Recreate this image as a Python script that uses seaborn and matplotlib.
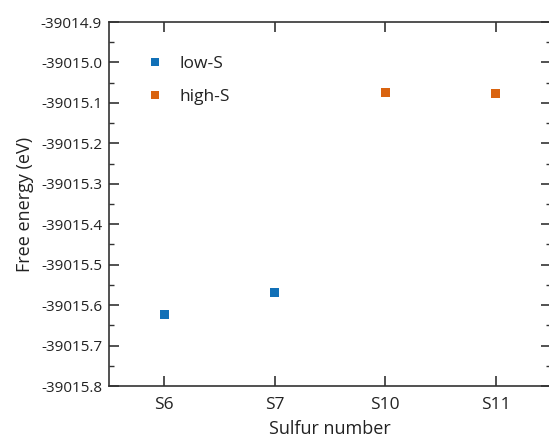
import matplotlib
matplotlib.use("Agg")
import matplotlib.pyplot as plt
import seaborn as sns
import pandas as pd
from matplotlib.ticker import MultipleLocator, FormatStrFormatter

categories = ["S6", "S7", "S10", "S11"]
groups = ["low-S", "low-S", "high-S", "high-S"]
energies = [-39015.623, -39015.568, -39015.075, -39015.076]
yticks = [-39014.9, -39015.0, -39015.1, -39015.2, -39015.3, -39015.4,
          -39015.5, -39015.6, -39015.7, -39015.8]

df = pd.DataFrame({"Sulfur number": categories, "group": groups, "energy": energies})

sns.set_style("ticks")
plt.rcParams["font.family"] = ["Open Sans", "DejaVu Sans"]

fig = plt.figure(figsize=(5.49, 4.40), dpi=100)
ax = fig.add_axes([109 / 549, 1 - 386 / 440, (551 - 109) / 549, (386 - 22) / 440])

palette = {"low-S": "#1170B7", "high-S": "#D9630F"}
sns.scatterplot(data=df, x="Sulfur number", y="energy", hue="group", palette=palette,
                marker="s", s=40, linewidth=0, ax=ax, legend=True)

ax.set_xlim(-0.5, 3.5)
ax.set_ylim(min(yticks), max(yticks))
ax.set_yticks(yticks)
ax.yaxis.set_minor_locator(MultipleLocator(0.05))
ax.yaxis.set_major_formatter(FormatStrFormatter("%.1f"))

ax.tick_params(axis="both", which="both", direction="in", top=True, right=True,
               color="#333333", labelcolor="#222222")
ax.tick_params(axis="y", which="major", labelsize=11, length=7, width=1.2, pad=5)
ax.tick_params(axis="x", which="major", labelsize=12.5, length=7, width=1.2, pad=8)
ax.tick_params(axis="y", which="minor", length=3.5, width=1.0)
for sp in ax.spines.values():
    sp.set_linewidth(1.2)
    sp.set_color("#333333")

ax.set_xlabel("Sulfur number", fontsize=13, labelpad=5, color="#222222")
ax.set_ylabel("Free energy (eV)", fontsize=13, labelpad=5, color="#222222")

leg = ax.legend(loc="upper left", frameon=False, fontsize=12.5, markerscale=0.85,
                bbox_to_anchor=(0.05, 0.95), handletextpad=0.9, labelspacing=1.0,
                handlelength=1.0)
for t in leg.get_texts():
    t.set_color("#222222")

fig.savefig("out.png", dpi=100)
